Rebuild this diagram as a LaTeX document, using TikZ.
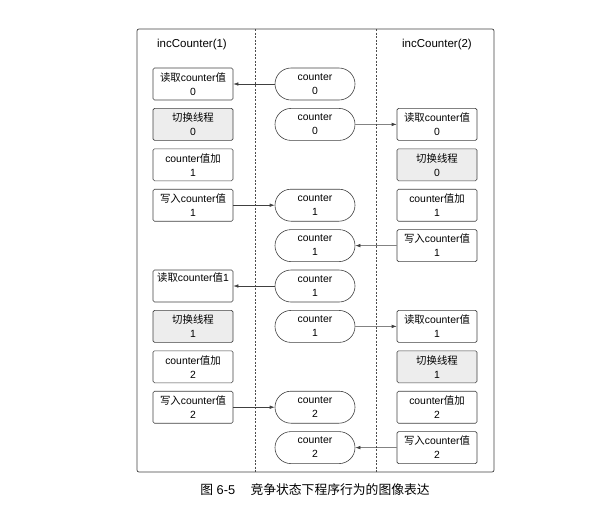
\documentclass[tikz,border=0pt]{standalone}
\usepackage{fontspec}
\setmainfont{Liberation Sans}
\newfontfamily\cjk{Noto Sans CJK SC}
\usetikzlibrary{arrows.meta,shapes.misc}
\newcommand{\txtrd}{{\cjk 读取}counter{\cjk 值}}
\newcommand{\txtsw}{{\cjk 切换线程}}
\newcommand{\txtad}{counter{\cjk 值加}}
\newcommand{\txtwr}{{\cjk 写入}counter{\cjk 值}}
\begin{document}
\begin{tikzpicture}[x=1pt,y=-1pt,
  stepbox/.style={draw=black!75, line width=0.6pt, rounded corners=1.5pt, minimum width=80pt, minimum height=32pt, align=center, inner sep=0pt, font=\fontsize{10.4}{14}\selectfont},
  greybox/.style={stepbox, fill=black!7},
  pill/.style={rounded rectangle, draw=black!75, line width=0.6pt, minimum width=80pt, minimum height=32pt, align=center, inner sep=0pt, font=\fontsize{10.4}{14}\selectfont},
  conn/.style={draw=black!75, line width=0.6pt, -{Latex[length=5pt,width=3.5pt]}},
  sep/.style={draw=black!70, line width=0.5pt, dash pattern=on 2pt off 1.5pt}
]
\useasboundingbox (0,0) rectangle (599,504);
\draw[draw=black!75, line width=0.7pt, rounded corners=2pt] (137,29) rectangle (494,472);
\coordinate (s1t) at (255,29); \coordinate (s1b) at (255,472);
\coordinate (s2t) at (376,29); \coordinate (s2b) at (376,472);
\draw[sep] (s1t) -- (s1b);
\draw[sep] (s2t) -- (s2b);
\node[font=\fontsize{11.5}{14}\selectfont] (h1) at (192,45) {incCounter(1)};
\node[font=\fontsize{11.5}{14}\selectfont] (h2) at (437,45) {incCounter(2)};
% left column
\node[stepbox] (L1) at (193,84) {\txtrd\\0};
\node[greybox] (L2) at (193,124.4) {\txtsw\\0};
\node[stepbox] (L3) at (193,164.8) {\txtad\\1};
\node[stepbox] (L4) at (193,205.2) {\txtwr\\1};
\node[stepbox] (L6) at (193,286) {\txtrd 1\\\strut};
\node[greybox] (L7) at (193,326.4) {\txtsw\\1};
\node[stepbox] (L8) at (193,366.8) {\txtad\\2};
\node[stepbox] (L9) at (193,407.2) {\txtwr\\2};
% middle column
\node[pill] (M1) at (315,84) {counter\\0};
\node[pill] (M2) at (315,124.4) {counter\\0};
\node[pill] (M4) at (315,205.2) {counter\\1};
\node[pill] (M5) at (315,245.6) {counter\\1};
\node[pill] (M6) at (315,286) {counter\\1};
\node[pill] (M7) at (315,326.4) {counter\\1};
\node[pill] (M9) at (315,407.2) {counter\\2};
\node[pill] (M10) at (315,447.6) {counter\\2};
% right column
\node[stepbox] (R2) at (437,124.4) {\txtrd\\0};
\node[greybox] (R3) at (437,164.8) {\txtsw\\0};
\node[stepbox] (R4) at (437,205.2) {\txtad\\1};
\node[stepbox] (R5) at (437,245.6) {\txtwr\\1};
\node[stepbox] (R7) at (437,326.4) {\txtrd\\1};
\node[greybox] (R8) at (437,366.8) {\txtsw\\1};
\node[stepbox] (R9) at (437,407.2) {\txtad\\2};
\node[stepbox] (R10) at (437,447.6) {\txtwr\\2};
% connectors
\draw[conn] (M1) -- (L1);
\draw[conn] (M2) -- (R2);
\draw[conn] (L4) -- (M4);
\draw[conn] (R5) -- (M5);
\draw[conn] (M6) -- (L6);
\draw[conn] (M7) -- (R7);
\draw[conn] (L9) -- (M9);
\draw[conn] (R10) -- (M10);
% caption
\node[font=\fontsize{12.8}{15}\selectfont] (cap) at (315,490) {{\cjk 图} 6-5\hspace{1.2em}{\cjk 竞争状态下程序行为的图像表达}};
\end{tikzpicture}
\end{document}
